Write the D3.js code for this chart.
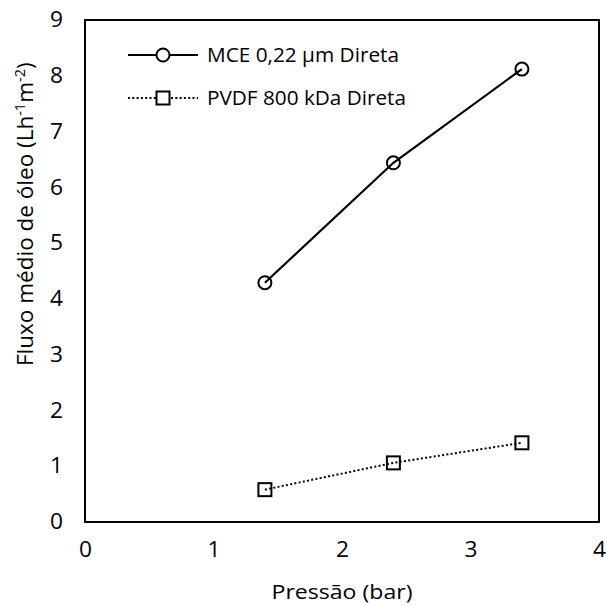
<!DOCTYPE html>
<html><head><meta charset="utf-8">
<script src="https://d3js.org/d3.v7.min.js"></script>
<style>body{margin:0;background:#fff}</style>
</head><body>
<script>
const pressures = [1.4, 2.4, 3.4];
const mceValues = [4.29, 6.44, 8.12];
const pvdfValues = [0.58, 1.06, 1.42];
const xTicks = [0, 1, 2, 3, 4];
const yTicks = [0, 1, 2, 3, 4, 5, 6, 7, 8, 9];
const seriesNames = ["MCE 0,22 µm Direta", "PVDF 800 kDa Direta"];

const W = 607, H = 606;
const m = {left: 85, right: 8, top: 20, bottom: 84};
const font = "'Open Sans', sans-serif";
const svg = d3.select("body").append("svg").attr("width", W).attr("height", H)
  .style("font-family", font);

const x = d3.scaleLinear().domain([0, 4]).range([m.left, W - m.right]);
const y = d3.scaleLinear().domain([0, 9]).range([H - m.bottom, m.top]);

// frame
svg.append("rect").attr("x", x(0)).attr("y", y(9))
  .attr("width", x(4) - x(0)).attr("height", y(0) - y(9))
  .attr("fill", "none").attr("stroke", "#000").attr("stroke-width", 2);

// axes (labels only)
const xAxis = svg.append("g").attr("transform", `translate(0,${y(0)})`)
  .call(d3.axisBottom(x).tickValues(xTicks).tickSize(0).tickPadding(20).tickFormat(d3.format("d")));
xAxis.select(".domain").remove();
xAxis.selectAll("text").attr("font-size", 21).attr("font-family", font).attr("fill", "#000")
  .attr("textLength", 13).attr("lengthAdjust", "spacingAndGlyphs");

const yAxis = svg.append("g").attr("transform", `translate(${x(0)},0)`)
  .call(d3.axisLeft(y).tickValues(yTicks).tickSize(0).tickPadding(22).tickFormat(d3.format("d")));
yAxis.select(".domain").remove();
yAxis.selectAll("text").attr("font-size", 21).attr("font-family", font).attr("fill", "#000")
  .attr("textLength", 13).attr("lengthAdjust", "spacingAndGlyphs");

// titles
svg.append("text").attr("x", x(2)).attr("y", 599).attr("text-anchor", "middle")
  .attr("font-size", 20).attr("textLength", 141).attr("lengthAdjust", "spacingAndGlyphs")
  .text("Pressão (bar)");

const yt = svg.append("text").attr("transform", `translate(33,366) rotate(-90)`)
  .attr("text-anchor", "start").attr("font-size", 22.5);
yt.append("tspan").text("Fluxo médio de óleo (Lh");
yt.append("tspan").attr("font-size", 14.5).attr("dy", -8).text("-1");
yt.append("tspan").attr("dy", 8).text("m");
yt.append("tspan").attr("font-size", 14.5).attr("dy", -8).text("-2");
yt.append("tspan").attr("dy", 8).text(")");

const line = d3.line().x(d => x(d[0])).y(d => y(d[1]));
const mce = pressures.map((p, i) => [p, mceValues[i]]);
const pvdf = pressures.map((p, i) => [p, pvdfValues[i]]);

svg.append("path").attr("d", line(mce)).attr("fill", "none").attr("stroke", "#000").attr("stroke-width", 2.2);
svg.selectAll(".c").data(mce).enter().append("circle")
  .attr("cx", d => x(d[0])).attr("cy", d => y(d[1])).attr("r", 6.5)
  .attr("fill", "none").attr("stroke", "#000").attr("stroke-width", 2);

svg.append("path").attr("d", line(pvdf)).attr("fill", "none").attr("stroke", "#000")
  .attr("stroke-width", 2).attr("stroke-dasharray", "2,2.3");
const sq = 13;
svg.selectAll(".s").data(pvdf).enter().append("rect")
  .attr("x", d => x(d[0]) - sq / 2).attr("y", d => y(d[1]) - sq / 2)
  .attr("width", sq).attr("height", sq)
  .attr("fill", "none").attr("stroke", "#000").attr("stroke-width", 2);

// legend
const lg = svg.append("g");
const lx0 = 128, lx1 = 198, lxm = 163;
const ly = [55, 98];
lg.append("line").attr("x1", lx0).attr("x2", lx1).attr("y1", ly[0]).attr("y2", ly[0])
  .attr("stroke", "#000").attr("stroke-width", 2.2);
lg.append("circle").attr("cx", lxm).attr("cy", ly[0]).attr("r", 6.5)
  .attr("fill", "#fff").attr("stroke", "#000").attr("stroke-width", 2);
lg.append("line").attr("x1", lx0).attr("x2", lx1).attr("y1", ly[1]).attr("y2", ly[1])
  .attr("stroke", "#000").attr("stroke-width", 2).attr("stroke-dasharray", "2,2.3");
lg.append("rect").attr("x", lxm - sq / 2).attr("y", ly[1] - sq / 2).attr("width", sq).attr("height", sq)
  .attr("fill", "#fff").attr("stroke", "#000").attr("stroke-width", 2);
const legendLengths = [192, 199];
seriesNames.forEach((n, i) => {
  lg.append("text").attr("x", 207).attr("y", ly[i]).attr("dy", "0.35em")
    .attr("font-size", 20).attr("textLength", legendLengths[i]).attr("lengthAdjust", "spacingAndGlyphs")
    .text(n);
});
</script>
</body></html>
